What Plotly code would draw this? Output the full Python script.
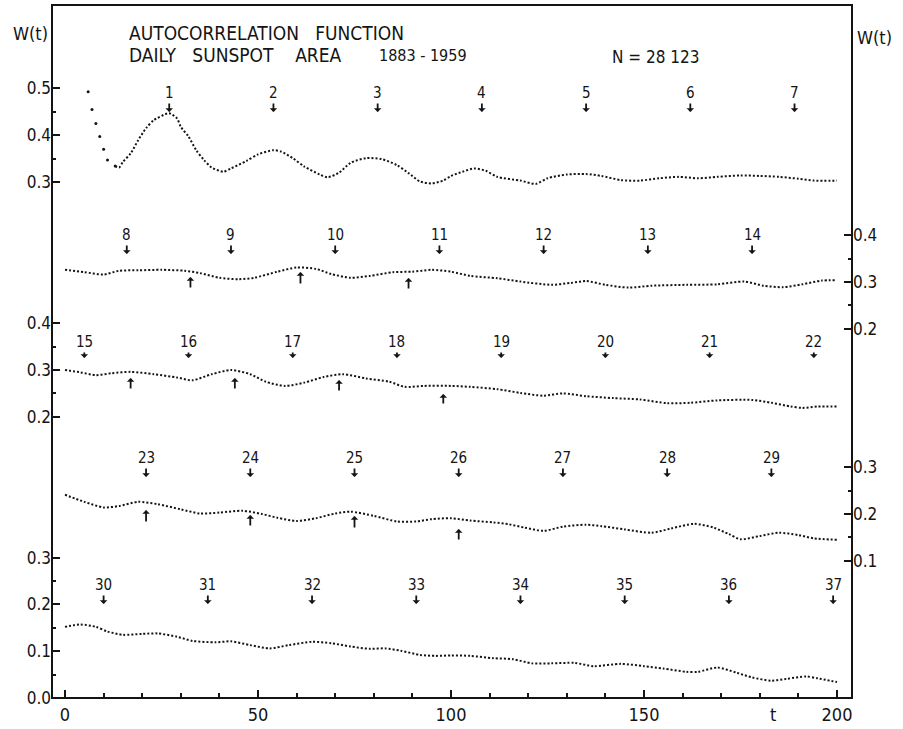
import plotly.graph_objects as go

# ---- data: autocorrelation W(t) of daily sunspot area, five 200-day strips ----
# strip k shows lags 200*(k-1) ... 200*k, plotted against t = 0..200
t_strip1 = [6, 7, 8, 9, 10, 11, 13, 14, 15, 17, 19, 21, 23, 26, 27, 29, 30, 32, 34, 36,
            38, 41, 43, 47, 50, 54, 56, 59, 62, 66, 68, 71, 74, 78, 82, 86, 89, 92, 95, 98,
            100, 103, 106, 109, 112, 118, 122, 125, 130, 135, 139, 144, 149, 154, 159, 164,
            169, 175, 180, 185, 190, 194, 200]
w_strip1 = [0.493, 0.455, 0.425, 0.397, 0.370, 0.347, 0.334, 0.331, 0.343, 0.361, 0.390,
            0.415, 0.432, 0.445, 0.447, 0.436, 0.418, 0.397, 0.368, 0.347, 0.331, 0.322,
            0.329, 0.345, 0.359, 0.368, 0.365, 0.351, 0.333, 0.316, 0.310, 0.320, 0.341,
            0.351, 0.349, 0.336, 0.319, 0.301, 0.297, 0.303, 0.313, 0.322, 0.329, 0.324,
            0.311, 0.303, 0.296, 0.308, 0.316, 0.317, 0.313, 0.304, 0.303, 0.308, 0.311,
            0.308, 0.311, 0.314, 0.313, 0.311, 0.307, 0.303, 0.303]

t_strip2 = [0, 5, 10, 14, 19, 25, 31, 35, 40, 45, 49, 55, 60, 65, 69, 74, 79, 85, 90, 95,
            100, 105, 112, 118, 126, 131, 135, 140, 146, 152, 161, 169, 176, 181, 186, 191,
            196, 200]
w_strip2 = [0.326, 0.321, 0.316, 0.324, 0.325, 0.326, 0.324, 0.319, 0.309, 0.306, 0.309,
            0.322, 0.331, 0.328, 0.317, 0.309, 0.313, 0.321, 0.322, 0.326, 0.322, 0.313,
            0.308, 0.301, 0.294, 0.298, 0.302, 0.294, 0.288, 0.292, 0.294, 0.295, 0.301,
            0.292, 0.289, 0.295, 0.303, 0.304]

t_strip3 = [0, 4, 8, 12, 17, 23, 29, 33, 38, 43, 48, 52, 57, 62, 67, 72, 78, 84, 88, 93,
            100, 105, 112, 118, 124, 129, 135, 142, 149, 156, 162, 169, 178, 183, 188, 191,
            195, 200]
w_strip3 = [0.300, 0.295, 0.289, 0.293, 0.296, 0.291, 0.284, 0.278, 0.291, 0.300, 0.291,
            0.275, 0.266, 0.273, 0.285, 0.291, 0.282, 0.275, 0.264, 0.266, 0.266, 0.264,
            0.259, 0.251, 0.245, 0.250, 0.244, 0.240, 0.237, 0.229, 0.230, 0.235, 0.236,
            0.230, 0.222, 0.219, 0.222, 0.222]

t_strip4 = [0, 5, 10, 14, 19, 24, 30, 35, 40, 46, 51, 55, 60, 65, 70, 74, 80, 86, 91, 95,
            100, 105, 111, 115, 119, 124, 129, 135, 139, 145, 152, 157, 163, 168, 172, 175,
            180, 185, 190, 194, 200]
w_strip4 = [0.241, 0.226, 0.214, 0.217, 0.226, 0.221, 0.210, 0.201, 0.203, 0.207, 0.200,
            0.192, 0.185, 0.191, 0.201, 0.205, 0.196, 0.184, 0.184, 0.189, 0.191, 0.186,
            0.182, 0.178, 0.171, 0.164, 0.173, 0.177, 0.174, 0.167, 0.160, 0.169, 0.179,
            0.171, 0.157, 0.146, 0.153, 0.160, 0.155, 0.148, 0.145]

t_strip5 = [0, 4, 8, 11, 15, 20, 24, 29, 33, 39, 43, 48, 53, 58, 64, 69, 74, 79, 83, 87,
            92, 96, 100, 105, 111, 116, 121, 126, 132, 137, 144, 150, 155, 161, 164, 169,
            174, 178, 183, 187, 192, 195, 200]
w_strip5 = [0.152, 0.157, 0.152, 0.142, 0.135, 0.137, 0.138, 0.131, 0.122, 0.119, 0.121,
            0.113, 0.106, 0.113, 0.120, 0.117, 0.110, 0.105, 0.106, 0.101, 0.092, 0.090,
            0.091, 0.090, 0.085, 0.083, 0.074, 0.074, 0.075, 0.068, 0.073, 0.068, 0.063,
            0.056, 0.056, 0.065, 0.054, 0.044, 0.037, 0.041, 0.046, 0.042, 0.034]

# numbered rotation marks (lag within the strip)
rot_num1 = [1, 2, 3, 4, 5, 6, 7]
rot_t1 = [27, 54, 81, 108, 135, 162, 189]
rot_num2 = [8, 9, 10, 11, 12, 13, 14]
rot_t2 = [16, 43, 70, 97, 124, 151, 178]
rot_num3 = [15, 16, 17, 18, 19, 20, 21, 22]
rot_t3 = [5, 32, 59, 86, 113, 140, 167, 194]
rot_num4 = [23, 24, 25, 26, 27, 28, 29]
rot_t4 = [21, 48, 75, 102, 129, 156, 183]
rot_num5 = [30, 31, 32, 33, 34, 35, 36, 37]
rot_t5 = [10, 37, 64, 91, 118, 145, 172, 199]

# unnumbered marks below the curves
low_t2 = [32.5, 61, 89]
low_t3 = [17, 44, 71, 98]
low_t4 = [21, 48, 75, 102]

# tick labels of each strip's W(t) scale
ticks1 = [0.3, 0.4, 0.5]
ticks2 = [0.2, 0.3, 0.4]
ticks3 = [0.2, 0.3, 0.4]
ticks4 = [0.1, 0.2, 0.3]
ticks5 = [0.0, 0.1, 0.2, 0.3]
x_ticks = [0, 50, 100, 150, 200]

# ---- layout geometry (pixels) ----
W, H = 903, 729
L, R, T, B = 52, 852, 5, 698
PX_PER_UNIT = 468.0
X_RANGE = [-3.37, 203.89]
FONT = "DejaVu Sans Condensed, Liberation Sans Narrow, DejaVu Sans, sans-serif"
INK = "#141414"
DOTS = dict(color=INK, width=2, dash="2px,2px", shape="spline", smoothing=0.7)
NB = "\u00a0"


def fx(px):
    return (px - L) / (R - L)


def fy(py):
    return (B - py) / (B - T)


def yrange(value, py):
    lo = value - (B - py) / PX_PER_UNIT
    return [lo, lo + (B - T) / PX_PER_UNIT]


strips = [
    # t, w, axis, side, ref value, ref pixel, ticks, number row px, tip px
    (t_strip1, w_strip1, "y", "left", 0.3, 182, ticks1, 93, 112, rot_num1, rot_t1),
    (t_strip2, w_strip2, "y2", "right", 0.3, 282, ticks2, 235, 254, rot_num2, rot_t2),
    (t_strip3, w_strip3, "y3", "left", 0.3, 370, ticks3, 342, 358, rot_num3, rot_t3),
    (t_strip4, w_strip4, "y4", "right", 0.2, 514, ticks4, 458, 477, rot_num4, rot_t4),
    (t_strip5, w_strip5, "y5", "left", 0.0, 698, ticks5, 585, 604, rot_num5, rot_t5),
]

fig = go.Figure()
annotations = []

for i, (ts, ws, ax, side, v0, p0, tk, num_py, tip_py, nums, rts) in enumerate(strips):
    if i == 0:
        # steep daily drop at the start: single dots, then the dotted curve
        k = 7
        fig.add_trace(go.Scatter(
            x=ts[:k], y=ws[:k], yaxis=ax, mode="markers",
            marker=dict(color=INK, size=3), showlegend=False, hoverinfo="skip"))
        fig.add_trace(go.Scatter(
            x=ts[k - 1:], y=ws[k - 1:], yaxis=ax, mode="lines", line=DOTS,
            showlegend=False, hoverinfo="skip"))
    else:
        fig.add_trace(go.Scatter(
            x=ts, y=ws, yaxis=ax, mode="lines", line=DOTS,
            showlegend=False, hoverinfo="skip"))
    minor_vals = [round(v + 0.05, 2) for v in tk[:-1]]
    axis = dict(
        range=yrange(v0, p0), side=side, showgrid=False, zeroline=False,
        showline=False, ticks="inside", ticklen=8, tickwidth=2, tickcolor=INK,
        tickmode="array", tickvals=tk, ticktext=[f"{v:.1f}" for v in tk],
        tickfont=dict(family=FONT, size=17, color=INK),
        minor=dict(tickmode="array", tickvals=minor_vals, ticks="inside",
                   ticklen=4, tickwidth=2, tickcolor=INK),
        anchor="x", fixedrange=True,
    )
    if i > 0:
        axis["overlaying"] = "y"
    key = "yaxis" if ax == "y" else "yaxis" + ax[1:]
    fig.update_layout(**{key: axis})

    for n, t in zip(nums, rts):
        annotations.append(dict(
            x=t, xref="x", y=fy(tip_py), yref="paper", text=str(n),
            showarrow=True, ax=0, ay=num_py - tip_py, axref="pixel", ayref="pixel",
            arrowhead=1, arrowsize=0.7, arrowwidth=1.8, arrowcolor=INK,
            font=dict(family=FONT, size=15, color=INK)))

# unnumbered marks (top and bottom pixel rows of each arrow)
low_marks = [
    (low_t2, [(277, 289), (272, 285), (278, 290)]),
    (low_t3, [(378, 390), (378, 390), (380, 392), (394, 405)]),
    (low_t4, [(510, 523), (515, 527), (516, 529), (529, 541)]),
]
for ts, rows in low_marks:
    for t, (top, bot) in zip(ts, rows):
        annotations.append(dict(
            x=t, xref="x", y=fy(top), yref="paper", text="",
            showarrow=True, ax=0, ay=bot - top, axref="pixel", ayref="pixel",
            arrowhead=1, arrowsize=0.7, arrowwidth=1.8, arrowcolor=INK))

# titles and axis names
texts = [
    (f"AUTOCORRELATION{NB*2} FUNCTION", 127, 33, "left", 19),
    (f"DAILY{NB*2} SUNSPOT{NB*3} AREA", 127, 55, "left", 19),
    ("1883 - 1959", 377, 56, "left", 16),
    ("N = 28 123", 610, 57, "left", 17),
    ("W(t)", 30, 34, "center", 18),
    ("W(t)", 874, 37, "center", 18),
    ("t", 773, 714, "center", 18),
]
for s, px, py, anchor, size in texts:
    annotations.append(dict(
        x=fx(px), y=fy(py), xref="paper", yref="paper", text=s, showarrow=False,
        xanchor=anchor, yanchor="middle", font=dict(family=FONT, size=size, color=INK)))

fig.update_layout(
    width=W, height=H,
    margin=dict(l=L, r=W - R, t=T, b=H - B, pad=0),
    paper_bgcolor="white", plot_bgcolor="white",
    xaxis=dict(range=X_RANGE, showgrid=False, zeroline=False, showline=False,
               tickmode="array", tickvals=x_ticks, ticks="inside", ticklen=8,
               tickwidth=2, tickcolor=INK, ticklabelstandoff=4,
               tickfont=dict(family=FONT, size=18, color=INK),
               minor=dict(dtick=10, tick0=0, ticks="inside", ticklen=5,
                          tickwidth=2, tickcolor=INK),
               fixedrange=True),
    annotations=annotations,
    shapes=[dict(type="rect", xref="paper", yref="paper", x0=0, x1=1, y0=0, y1=1,
                 line=dict(color=INK, width=2), layer="above")],
    showlegend=False,
)

fig.write_html("out.html")
